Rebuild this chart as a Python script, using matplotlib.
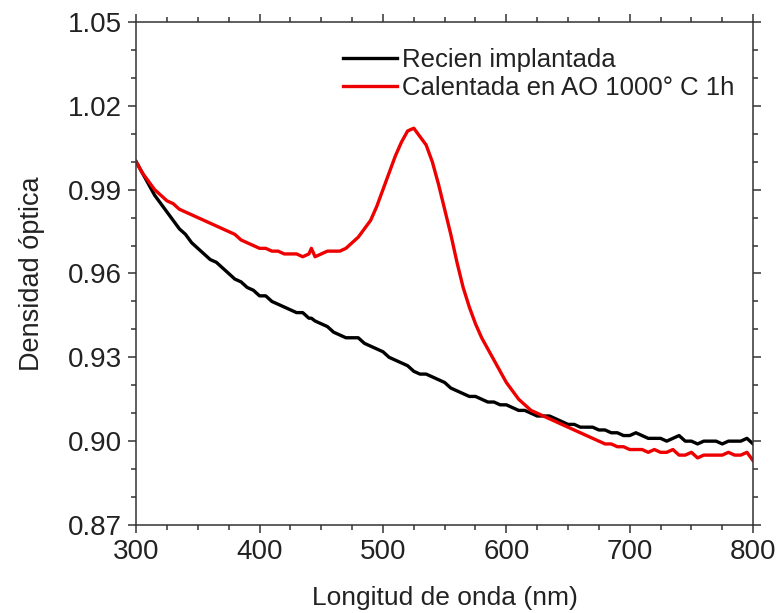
import matplotlib
matplotlib.use("Agg")
import matplotlib.pyplot as plt
from matplotlib.ticker import MultipleLocator

plt.rcParams['font.family'] = ['Liberation Sans', 'DejaVu Sans']

# wavelength grid (nm), read every 5 nm plus the little spike near 442 nm
wavelength = [300, 305, 310, 315, 320, 325, 330, 335, 340, 345,
              350, 355, 360, 365, 370, 375, 380, 385, 390, 395,
              400, 405, 410, 415, 420, 425, 430, 435, 440, 442, 445,
              450, 455, 460, 465, 470, 475, 480, 485, 490, 495,
              500, 505, 510, 515, 520, 525, 530, 535, 540, 545,
              550, 555, 560, 565, 570, 575, 580, 585, 590, 595,
              600, 605, 610, 615, 620, 625, 630, 635, 640, 645,
              650, 655, 660, 665, 670, 675, 680, 685, 690, 695,
              700, 705, 710, 715, 720, 725, 730, 735, 740, 745,
              750, 755, 760, 765, 770, 775, 780, 785, 790, 795, 800]

# as-implanted sample
recien = [1.000, 0.996, 0.992, 0.988, 0.985, 0.982, 0.979, 0.976, 0.974, 0.971,
          0.969, 0.967, 0.965, 0.964, 0.962, 0.960, 0.958, 0.957, 0.955, 0.954,
          0.952, 0.952, 0.950, 0.949, 0.948, 0.947, 0.946, 0.946, 0.944, 0.944, 0.943,
          0.942, 0.941, 0.939, 0.938, 0.937, 0.937, 0.937, 0.935, 0.934, 0.933,
          0.932, 0.930, 0.929, 0.928, 0.927, 0.925, 0.924, 0.924, 0.923, 0.922,
          0.921, 0.919, 0.918, 0.917, 0.916, 0.916, 0.915, 0.914, 0.914, 0.913,
          0.913, 0.912, 0.911, 0.911, 0.910, 0.909, 0.909, 0.909, 0.908, 0.907,
          0.906, 0.906, 0.905, 0.905, 0.905, 0.904, 0.904, 0.903, 0.903, 0.902,
          0.902, 0.903, 0.902, 0.901, 0.901, 0.901, 0.900, 0.901, 0.902, 0.900,
          0.900, 0.899, 0.900, 0.900, 0.900, 0.899, 0.900, 0.900, 0.900, 0.901, 0.899]

# annealed in AO at 1000 C for 1 h
calentada = [1.000, 0.996, 0.993, 0.990, 0.988, 0.986, 0.985, 0.983, 0.982, 0.981,
             0.980, 0.979, 0.978, 0.977, 0.976, 0.975, 0.974, 0.972, 0.971, 0.970,
             0.969, 0.969, 0.968, 0.968, 0.967, 0.967, 0.967, 0.966, 0.967, 0.969, 0.966,
             0.967, 0.968, 0.968, 0.968, 0.969, 0.971, 0.973, 0.976, 0.979, 0.984,
             0.990, 0.996, 1.002, 1.007, 1.011, 1.012, 1.009, 1.006, 1.000, 0.992,
             0.983, 0.974, 0.964, 0.955, 0.948, 0.942, 0.937, 0.933, 0.929, 0.925,
             0.921, 0.918, 0.915, 0.913, 0.911, 0.910, 0.909, 0.908, 0.907, 0.906,
             0.905, 0.904, 0.903, 0.902, 0.901, 0.900, 0.899, 0.899, 0.898, 0.898,
             0.897, 0.897, 0.897, 0.896, 0.897, 0.896, 0.896, 0.897, 0.895, 0.895,
             0.896, 0.894, 0.895, 0.895, 0.895, 0.895, 0.896, 0.895, 0.895, 0.896, 0.893]

labels = ['Recien implantada', 'Calentada en AO 1000° C 1h']

fig = plt.figure(figsize=(7.78, 6.13), dpi=100)
ax = fig.add_axes([0.175, 0.1436, 0.793, 0.8205])

ax.plot(wavelength, recien, color='black', lw=2.4, label=labels[0])
ax.plot(wavelength, calentada, color='#ee0000', lw=2.4, label=labels[1])

ax.set_xlim(300, 800)
ax.set_ylim(0.87, 1.05)
ax.xaxis.set_major_locator(MultipleLocator(100))
ax.xaxis.set_minor_locator(MultipleLocator(25))
ax.yaxis.set_major_locator(MultipleLocator(0.03))
ax.yaxis.set_minor_locator(MultipleLocator(0.01))
ax.yaxis.set_major_formatter(matplotlib.ticker.FormatStrFormatter('%.2f'))

ax.tick_params(which='both', direction='out', top=True, right=True,
               color='#333333', width=1.1)
ax.tick_params(which='major', length=6, labelsize=20, pad=4, labelcolor='#222222')
ax.tick_params(which='minor', length=3.5)
for s in ax.spines.values():
    s.set_color('#333333')
    s.set_linewidth(1.1)

ax.set_xlabel('Longitud de onda (nm)', fontsize=19, labelpad=15, color='#222222')
ax.set_ylabel('Densidad óptica', fontsize=19.5, labelpad=17, color='#222222')

ax.legend(loc='upper left', bbox_to_anchor=(0.441, 0.921), bbox_transform=fig.transFigure,
          frameon=False, fontsize=18.5, handlelength=2.1, handletextpad=0.2,
          labelspacing=0.12, borderpad=0, borderaxespad=0,
          labelcolor='#222222')

fig.savefig('out.png', dpi=100)
